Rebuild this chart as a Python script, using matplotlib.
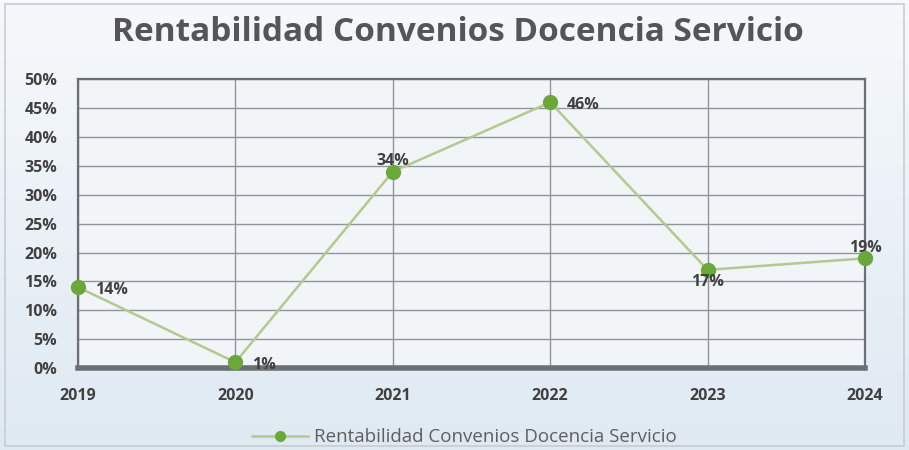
import matplotlib
matplotlib.use('Agg')
import matplotlib.pyplot as plt
import numpy as np
from matplotlib.ticker import FuncFormatter, MultipleLocator
from matplotlib.lines import Line2D

plt.rcParams['font.family'] = ['Open Sans', 'DejaVu Sans']

# ---- data ----
years = [2019, 2020, 2021, 2022, 2023, 2024]
rentabilidad = [14, 1, 34, 46, 17, 19]
# where each value label sits relative to its point
label_pos = ['right', 'right', 'above', 'right', 'below', 'above']
series_name = 'Rentabilidad Convenios Docencia Servicio'
title = 'Rentabilidad Convenios Docencia Servicio'

fig = plt.figure(figsize=(9.09, 4.5), dpi=100)

# ---- background gradient + frame ----
bg = fig.add_axes([0, 0, 1, 1], zorder=-10)
grad = np.linspace(0, 1, 256).reshape(-1, 1)
top_c = np.array([0.965, 0.975, 0.985])
bot_c = np.array([0.875, 0.915, 0.950])
img = top_c[None, None, :] * (1 - grad[:, :, None]) + bot_c[None, None, :] * grad[:, :, None]
bg.imshow(img, aspect='auto', extent=[0, 1, 0, 1], origin='upper')
bg.add_patch(plt.Rectangle((0.005, 0.009), 0.99, 0.982, fill=False,
                           edgecolor='#c8cdd2', linewidth=1.2))
bg.set_xlim(0, 1)
bg.set_ylim(0, 1)
bg.axis('off')

# ---- main plot ----
ax = fig.add_axes([0.0858, 0.182, 0.8658, 0.642])
ax.set_facecolor('#f2f5f8')
ax.plot(years, rentabilidad, color='#b3c98f', linewidth=1.8,
        marker='o', markersize=10, markerfacecolor='#6aa83a',
        markeredgecolor='#6aa83a', zorder=5, clip_on=False)

lab_kw = dict(textcoords='offset points', fontsize=11.5, fontweight='bold',
              color='#404040', zorder=6)
for x, v, pos in zip(years, rentabilidad, label_pos):
    txt = f'{v}%'
    if pos == 'right':
        ax.annotate(txt, (x, v), xytext=(12, -2), ha='left', va='center', **lab_kw)
    elif pos == 'above':
        ax.annotate(txt, (x, v), xytext=(0, 2), ha='center', va='bottom', **lab_kw)
    else:
        ax.annotate(txt, (x, v), xytext=(0, -3), ha='center', va='top', **lab_kw)

ax.set_xlim(2019, 2024)
ax.set_ylim(0, 50)
ax.set_xticks(years)
ax.yaxis.set_major_locator(MultipleLocator(5))
ax.yaxis.set_major_formatter(FuncFormatter(lambda v, p: f'{int(v)}%'))
ax.grid(True, color='#8f959b', linewidth=1.0)
ax.set_axisbelow(True)
ax.tick_params(length=0, labelsize=11.5, colors='#404040')
ax.tick_params(axis='x', pad=14)
ax.tick_params(axis='y', pad=15)
for lab in ax.get_xticklabels() + ax.get_yticklabels():
    lab.set_fontweight('bold')
for side in ['left', 'right', 'top']:
    ax.spines[side].set_color('#6b7075')
    ax.spines[side].set_linewidth(1.6)
ax.spines['bottom'].set_color('#6b7075')
ax.spines['bottom'].set_linewidth(4)

# ---- title ----
fig.text(0.504, 0.928, title, ha='center', va='center', fontsize=24,
         fontweight='bold', color='#555555')

# ---- legend ----
handle = Line2D([], [], color='#b3c98f', linewidth=1.8, marker='o', markersize=7,
                markerfacecolor='#6aa83a', markeredgecolor='#6aa83a')
fig.legend([handle], [series_name], loc='center', bbox_to_anchor=(0.511, 0.028),
           frameon=False, fontsize=13.5, labelcolor='#5f5f5f', handlelength=3.0,
           handletextpad=0.3)

fig.savefig('out.png', dpi=100)
